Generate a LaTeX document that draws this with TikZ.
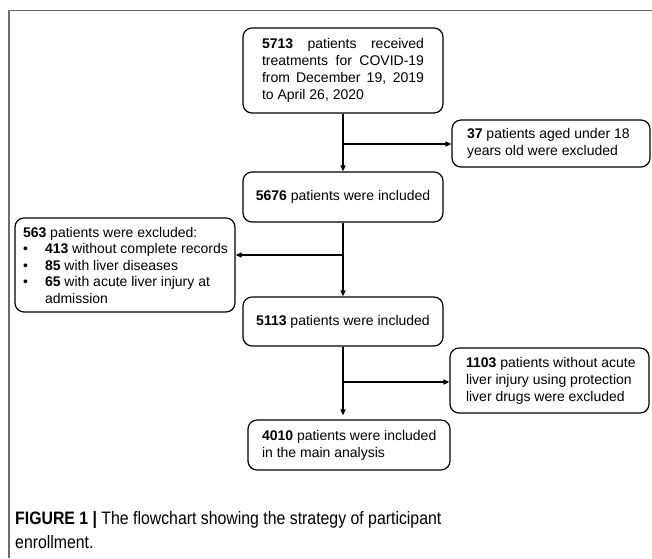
\documentclass[tikz,border=0pt]{standalone}
\usepackage{fontspec}
\setmainfont{Liberation Sans}
\newfontfamily\capfont[FakeStretch=0.88]{Liberation Sans}
\usetikzlibrary{arrows.meta}
\begin{document}
\begin{tikzpicture}[x=1pt,y=-1pt,
  box/.style={draw=black, line width=1.2pt, rounded corners=9pt, inner sep=0pt,
    font=\fontsize{14}{17}\selectfont},
  arr/.style={line width=1.4pt, -{Triangle[length=6pt,width=5pt]}},
  frame/.style={draw=black!58, line width=1.2pt},
  captext/.style={anchor=north west, inner sep=0pt, align=left,
    font=\capfont\fontsize{18}{23.5}\selectfont}
]
\useasboundingbox (0,0) rectangle (652,558);
% outer frame
\draw[frame] (9,558) -- (9,10.5) -- (652,10.5);

% boxes
\node[box, minimum width=200pt, minimum height=85pt] (b1) at (343,70.5)
  {\parbox{162pt}{%
    \makebox[162pt][s]{\textbf{5713} patients received}\\
    \makebox[162pt][s]{treatments for COVID-19}\\
    \makebox[162pt][s]{from December 19, 2019}\\
    \mbox{to April 26, 2020}}};

\node[box, minimum width=198pt, minimum height=47pt] (b37) at (551,143.5)
  {\parbox{168pt}{\raggedright
    \mbox{\textbf{37} patients aged under 18}\\
    \mbox{years old were excluded}}};

\node[box, minimum width=200pt, minimum height=50pt] (b2) at (343,197)
  {\textbf{5676} patients were included};

\node[box, minimum width=220pt, minimum height=94pt,
  font=\fontsize{14}{16.5}\selectfont] (b563) at (125,265)
  {\parbox{204pt}{\raggedright
    \mbox{\textbf{563} patients were excluded:}\\
    \mbox{\makebox[22pt][l]{\textbullet}\textbf{413} without complete records}\\
    \mbox{\makebox[22pt][l]{\textbullet}\textbf{85} with liver diseases}\\
    \mbox{\makebox[22pt][l]{\textbullet}\textbf{65} with acute liver injury at}\\
    \mbox{\hspace*{22pt}admission}}};

\node[box, minimum width=200pt, minimum height=49pt] (b3) at (343,321.5)
  {\textbf{5113} patients were included};

\node[box, minimum width=199pt, minimum height=65pt] (b1103) at (549.5,380.5)
  {\parbox{167pt}{\raggedright
    \mbox{\textbf{1103} patients without acute}\\
    \mbox{liver injury using protection}\\
    \mbox{liver drugs were excluded}}};

\node[box, minimum width=202pt, minimum height=50pt] (b4) at (349,445)
  {\parbox{174pt}{\raggedright
    \mbox{\textbf{4010} patients were included}\\
    \mbox{in the main analysis}}};

% connectors
\coordinate (j1) at (343,144);
\coordinate (j2) at (343,255);
\coordinate (j3) at (343,382);
\draw[arr] (b1.south) -- (b2.north);
\draw[arr] (j1) -- (j1 -| b37.west);
\draw[arr] (b2.south) -- (b3.north);
\draw[arr] (j2) -- (j2 -| b563.east);
\draw[arr, shorten >=4pt] (b3.south) -- (b3.south |- b4.north);
\draw[arr] (j3) -- (j3 -| b1103.west);

% caption
\node[captext] (cap) at (15,511.5)
  {\textbf{FIGURE 1 |} The flowchart showing the strategy of participant\\enrollment.};
\end{tikzpicture}
\end{document}
